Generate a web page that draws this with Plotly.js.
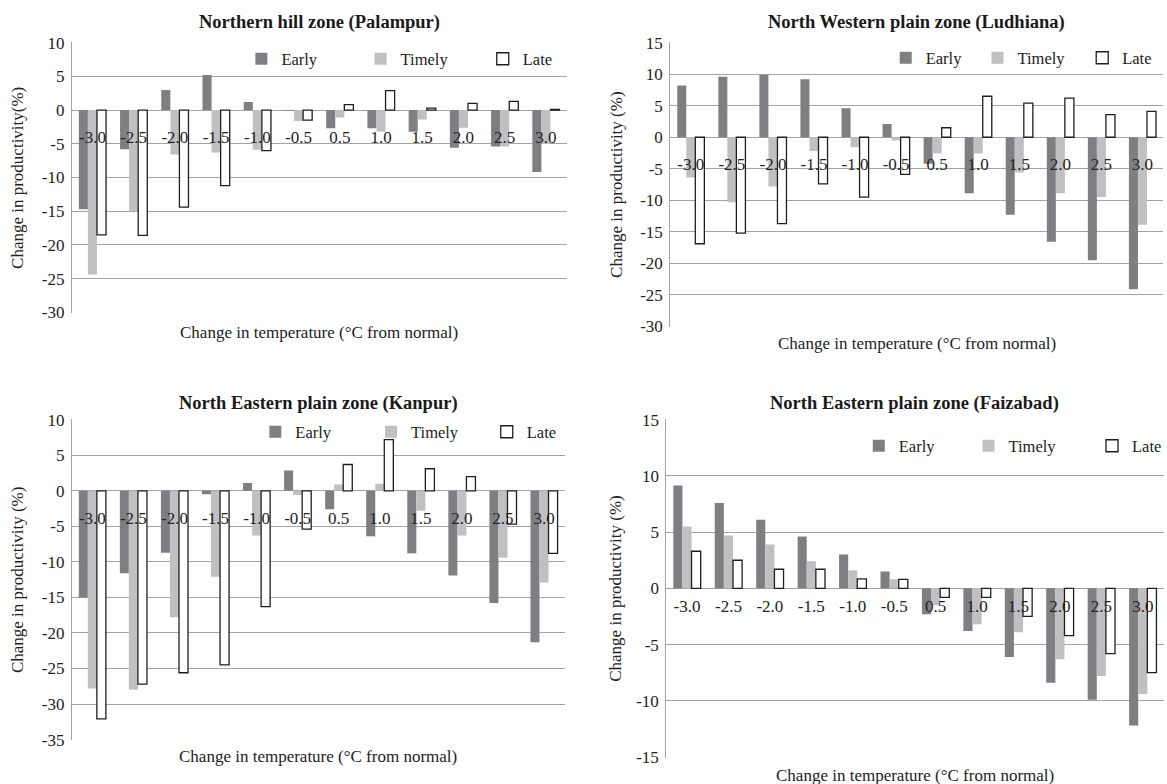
<!DOCTYPE html>
<html><head><meta charset="utf-8">
<script src="https://cdn.plot.ly/plotly-3.0.1.min.js"></script>
<style>html,body{margin:0;padding:0;background:#fff}#chart{width:1167px;height:784px}</style>
</head><body><div id="chart"></div>
<script>
// Category labels (change in temperature, °C from normal)
const temps = ['-3.0','-2.5','-2.0','-1.5','-1.0','-0.5','0.5','1.0','1.5','2.0','2.5','3.0'];
const seriesNames = ['Early','Timely','Late'];

// Northern hill zone (Palampur)
const palampurEarly  = [-14.7, -5.8, 3.0, 5.2, 1.2, -0.1, -2.7, -2.7, -3.2, -5.6, -5.4, -9.2];
const palampurTimely = [-24.4, -15.0, -6.6, -6.3, -5.9, -1.6, -1.1, -3.2, -1.4, -2.6, -5.4, -5.0];
const palampurLate   = [-18.5, -18.6, -14.4, -11.2, -6.0, -1.5, 0.8, 2.9, 0.3, 1.0, 1.3, 0.1];

// North Western plain zone (Ludhiana)
const ludhianaEarly  = [8.2, 9.6, 9.9, 9.2, 4.6, 2.1, -4.2, -8.9, -12.3, -16.6, -19.5, -24.1];
const ludhianaTimely = [-6.4, -10.3, -7.8, -2.2, -1.6, -0.5, -2.6, -2.6, -5.6, -8.9, -9.5, -13.9];
const ludhianaLate   = [-16.9, -15.2, -13.7, -7.4, -9.5, -5.9, 1.5, 6.5, 5.4, 6.2, 3.6, 4.1];

// North Eastern plain zone (Kanpur)
const kanpurEarly  = [-15.0, -11.6, -8.7, -0.5, 1.1, 2.85, -2.6, -6.4, -8.8, -11.9, -15.8, -21.3];
const kanpurTimely = [-27.8, -28.0, -17.8, -12.1, -6.3, -0.6, 0.9, 1.0, -2.8, -6.3, -9.4, -12.9];
const kanpurLate   = [-32.1, -27.2, -25.6, -24.5, -16.3, -5.4, 3.7, 7.2, 3.1, 2.0, -4.7, -8.8];

// North Eastern plain zone (Faizabad)
const faizabadEarly  = [9.15, 7.6, 6.1, 4.6, 3.0, 1.5, -2.3, -3.8, -6.1, -8.4, -9.9, -12.2];
const faizabadTimely = [5.5, 4.7, 3.9, 2.4, 1.6, 0.8, -1.5, -3.2, -3.9, -6.3, -7.8, -9.4];
const faizabadLate   = [3.3, 2.5, 1.7, 1.7, 0.85, 0.8, -0.8, -0.8, -2.5, -4.2, -5.8, -7.5];

// Tick values for the y axes
const yTicks1 = [10, 5, 0, -5, -10, -15, -20, -25, -30];
const yTicks2 = [15, 10, 5, 0, -5, -10, -15, -20, -25, -30];
const yTicks3 = [10, 5, 0, -5, -10, -15, -20, -25, -30, -35];
const yTicks4 = [15, 10, 5, 0, -5, -10, -15];

const W = 1167, H = 784;
const FONT = 'Liberation Serif, Times New Roman, serif';
const GRID = '#a3a3a3';
const EPS = 0.06;

const panels = [
  {title:'Northern hill zone (Palampur)', ytitle:'Change in productivity(%)',
   data:[palampurEarly, palampurTimely, palampurLate], ticks:yTicks1, yr:[-30,10],
   px:[72,568], py:[42.3,312.7], titleY:22.5, xtitleY:332, ytitleX:17.5,
   legText:[278,397.5,520], legY:59, lblOff:15},
  {title:'North Western plain zone (Ludhiana)', ytitle:'Change in productivity (%)',
   data:[ludhianaEarly, ludhianaTimely, ludhianaLate], ticks:yTicks2, yr:[-30,15],
   px:[672,1166], py:[42.3,326.7], titleY:22.5, xtitleY:343, ytitleX:618,
   legText:[924,1016,1121], legY:58, lblOff:15},
  {title:'North Eastern plain zone (Kanpur)', ytitle:'Change in productivity (%)',
   data:[kanpurEarly, kanpurTimely, kanpurLate], ticks:yTicks3, yr:[-35,10],
   px:[72,566], py:[419.3,740], titleY:403, xtitleY:756, ytitleX:17.5,
   legText:[292,408,524], legY:432, lblOff:15},
  {title:'North Eastern plain zone (Faizabad)', ytitle:'Change in productivity (%)',
   data:[faizabadEarly, faizabadTimely, faizabadLate], ticks:yTicks4, yr:[-15,15],
   px:[668,1166.5], py:[419,757.7], titleY:403, xtitleY:775.5, ytitleX:617,
   legText:[897,1007,1131], legY:446, lblOff:6}
];

const styles = [
  {color:'#7f7f83', line:{width:0}},
  {color:'#c0c0c2', line:{width:0}},
  {color:'#ffffff', line:{color:'#1e1e1e', width:1.3}}
];

const traces = [];
const layout = {
  width: W, height: H,
  margin: {l:0, r:0, t:0, b:0},
  paper_bgcolor: '#fff', plot_bgcolor: '#fff',
  barmode: 'group', bargap: 0.34, bargroupgap: 0,
  font: {family: FONT, color: '#222', size: 17},
  annotations: [], showlegend: true
};

let legIdx = 0;
panels.forEach((p, i) => {
  const n = i + 1;
  const sfx = n === 1 ? '' : String(n);
  const xd = [p.px[0] / W, p.px[1] / W];
  const yd = [1 - p.py[1] / H, 1 - p.py[0] / H];
  const yr = [p.yr[0] - EPS, p.yr[1] + EPS];
  const zeroPos = yd[0] + (0 - yr[0]) / (yr[1] - yr[0]) * (yd[1] - yd[0]);

  p.data.forEach((vals, k) => {
    legIdx += 1;
    const lid = legIdx === 1 ? 'legend' : 'legend' + legIdx;
    traces.push({
      type: 'bar', name: seriesNames[k], x: temps, y: vals,
      xaxis: 'x' + sfx, yaxis: 'y' + sfx, legend: lid,
      marker: styles[k], hoverinfo: 'x+y+name'
    });
    layout[lid] = {
      orientation: 'h', x: (p.legText[k] - 36) / W, y: 1 - p.legY / H,
      xanchor: 'left', yanchor: 'middle',
      bgcolor: 'rgba(0,0,0,0)', borderwidth: 0, itemwidth: 30,
      font: {family: FONT, size: 16.5, color: '#222'}
    };
  });

  layout['xaxis' + sfx] = {
    domain: xd, type: 'category', anchor: 'free', position: zeroPos,
    showline: false, showgrid: false, zeroline: false, ticks: '',
    ticklabelstandoff: p.lblOff, automargin: false,
    tickfont: {family: FONT, size: 17, color: '#222'}
  };
  layout['yaxis' + sfx] = {
    domain: yd, range: yr, anchor: 'x' + sfx, automargin: false,
    tickmode: 'array', tickvals: p.ticks, ticktext: p.ticks.map(v => String(v)),
    showgrid: true, gridcolor: GRID, gridwidth: 1,
    showline: true, linecolor: GRID, linewidth: 1, zeroline: false,
    ticks: '', ticklabelstandoff: 3,
    tickfont: {family: FONT, size: 17, color: '#222'}
  };
  layout.annotations.push({
    text: '<b>' + p.title + '</b>', xref: 'paper', yref: 'paper',
    x: (xd[0] + xd[1]) / 2, y: 1 - p.titleY / H, xanchor: 'center', yanchor: 'middle',
    showarrow: false, font: {family: FONT, size: 18.5, color: '#1a1a1a'}
  });
  layout.annotations.push({
    text: 'Change in temperature (°C from normal)', xref: 'paper', yref: 'paper',
    x: (xd[0] + xd[1]) / 2, y: 1 - p.xtitleY / H, xanchor: 'center', yanchor: 'middle',
    showarrow: false, font: {family: FONT, size: 17, color: '#222'}
  });
  layout.annotations.push({
    text: p.ytitle, xref: 'paper', yref: 'paper', textangle: -90,
    x: p.ytitleX / W, y: (yd[0] + yd[1]) / 2, xanchor: 'center', yanchor: 'middle',
    showarrow: false, font: {family: FONT, size: 17, color: '#222'}
  });
});

Plotly.newPlot('chart', traces, layout, {staticPlot: true, displayModeBar: false});
</script>
</body></html>
